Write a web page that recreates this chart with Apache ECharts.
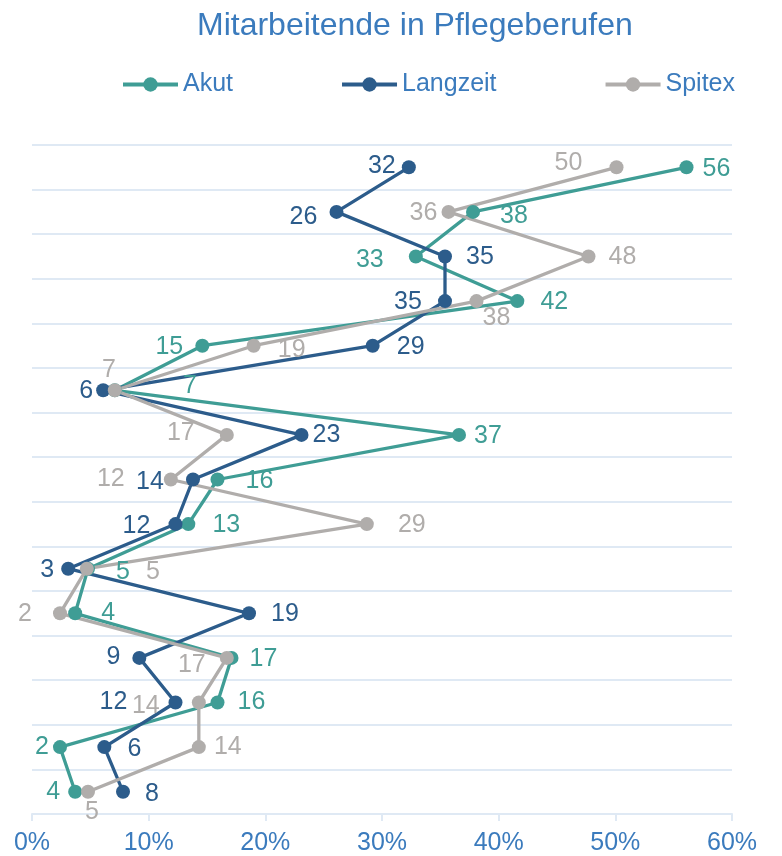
<!DOCTYPE html>
<html>
<head>
<meta charset="utf-8">
<script src="https://cdn.jsdelivr.net/npm/echarts@6/dist/echarts.min.js"></script>
<style>
  html, body { margin: 0; padding: 0; background: #fff; }
  #chart { width: 782px; height: 856px; }
</style>
</head>
<body>
<div id="chart"></div>
<script>
// 15 Zeilen, ohne Beschriftung im Original
var categories = ['1', '2', '3', '4', '5', '6', '7', '8', '9', '10', '11', '12', '13', '14', '15'];
var xTicks = [0, 10, 20, 30, 40, 50, 60];

var akut     = [56.1, 37.8, 32.9, 41.6, 14.6, 7.1, 36.6, 15.9, 13.4, 4.8, 3.7, 17.1, 15.9, 2.4, 3.7];
var langzeit = [32.3, 26.1, 35.4, 35.4, 29.2, 6.1, 23.1, 13.8, 12.3, 3.1, 18.6, 9.2, 12.3, 6.2, 7.8];
var spitex   = [50.1, 35.7, 47.7, 38.1, 19.0, 7.1, 16.7, 11.9, 28.7, 4.7, 2.4, 16.7, 14.3, 14.3, 4.8];

// Versatz der Wertbeschriftung zum Punkt (dx, dy)
var akutLabelAt     = [[30, 2], [41, 4], [-46, 4], [37, 1], [-33, 1], [75, -4], [29, 1], [42, 2], [38, 1], [35, 3], [33, 0], [32, 1], [34, 0], [-18, 0], [-22, 0]];
var langzeitLabelAt = [[-27, -1], [-33, 5], [35, 1], [-37, 1], [38, 1], [-17, 1], [25, 0], [-43, 3], [-39, 2], [-21, 1], [36, 1], [-26, -1], [-62, 0], [30, 2], [29, 2]];
var spitexLabelAt   = [[-48, -4], [-25, 1], [34, 1], [20, 17], [38, 4], [-6, -20], [-46, -2], [-60, 0], [45, 1], [66, 3], [-35, 1], [-35, 7], [-53, 4], [29, 0], [4, 20]];

var textBlue = '#3b7bbd';
var gridColor = '#dfe9f4';
var font = 'Arial, "Liberation Sans", sans-serif';

function makeSeries(name, values, offsets, color) {
    return {
        name: name,
        type: 'line',
        symbol: 'circle',
        symbolSize: 14,
        lineStyle: { width: 3.3, color: color },
        itemStyle: { color: color },
        label: {
            show: true,
            position: 'inside',
            color: color,
            fontSize: 25,
            fontFamily: font,
            formatter: function (p) { return Math.round(p.value); }
        },
        emphasis: { disabled: true },
        animation: false,
        data: values.map(function (v, i) {
            return { value: v, label: { offset: offsets[i] } };
        })
    };
}

var option = {
    backgroundColor: '#fff',
    title: {
        text: 'Mitarbeitende in Pflegeberufen',
        left: 192,
        top: 5,
        textStyle: { color: textBlue, fontSize: 32, fontWeight: 'normal', fontFamily: font }
    },
    legend: {
        left: 116,
        top: 67,
        itemGap: 107,
        itemWidth: 55,
        itemHeight: 18,
        itemStyle: { borderWidth: 0 },
        lineStyle: { width: 4 },
        textStyle: { color: textBlue, fontSize: 25, fontFamily: font },
        data: ['Akut', 'Langzeit', 'Spitex']
    },
    grid: { left: 32, right: 50, top: 145, bottom: 41 },
    xAxis: {
        type: 'value',
        min: xTicks[0],
        max: xTicks[xTicks.length - 1],
        interval: 10,
        axisLine: { show: true, lineStyle: { color: gridColor, width: 2 } },
        axisTick: { show: true, length: 7, lineStyle: { color: gridColor, width: 2 } },
        splitLine: { show: false },
        axisLabel: {
            color: textBlue, fontSize: 25, fontFamily: font, margin: 17,
            formatter: function (v) { return v + '%'; }
        }
    },
    yAxis: {
        type: 'category',
        inverse: true,
        data: categories,
        boundaryGap: true,
        axisLine: { show: false },
        axisTick: { show: false },
        axisLabel: { show: false },
        splitLine: { show: true, lineStyle: { color: gridColor, width: 2 } }
    },
    series: [
        makeSeries('Akut', akut, akutLabelAt, '#3f9d95'),
        makeSeries('Langzeit', langzeit, langzeitLabelAt, '#2c5c8b'),
        makeSeries('Spitex', spitex, spitexLabelAt, '#b0adab')
    ]
};

var myChart = echarts.init(document.getElementById('chart'));
myChart.setOption(option);
</script>
</body>
</html>
